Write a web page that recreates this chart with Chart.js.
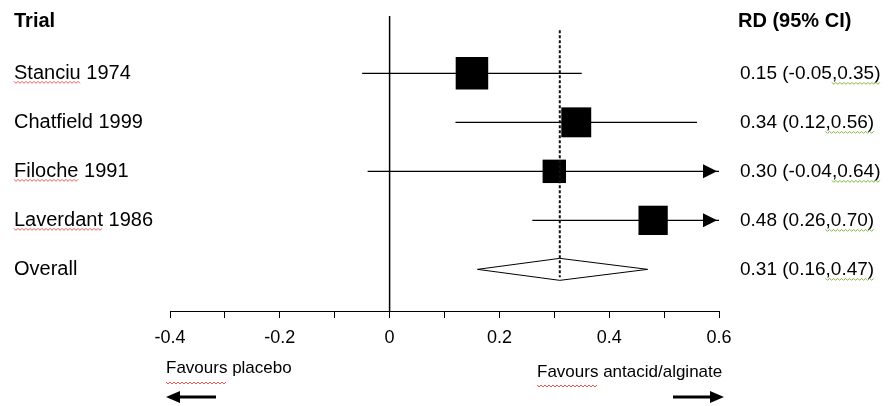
<!DOCTYPE html>
<html lang="en">
<head>
<meta charset="UTF-8">
<title>Forest plot - RD (95% CI)</title>
<style>
  html, body { margin: 0; padding: 0; background: #fff; }
  #wrap { width: 891px; height: 406px; }
</style>
<script src="https://cdn.jsdelivr.net/npm/chart.js"></script>
</head>
<body>
<div id="wrap"><canvas id="forest" width="891" height="406"></canvas></div>
<script>
// data
const trials = ['Stanciu 1974', 'Chatfield 1999', 'Filoche 1991', 'Laverdant 1986'];
const rd = [0.15, 0.34, 0.30, 0.48];
const lower = [-0.05, 0.12, -0.04, 0.26];
const upper = [0.35, 0.56, 0.64, 0.70];
const weights = [1.0, 0.92, 0.72, 0.9]; // relative box size
const overallLabel = 'Overall';
const overallRd = 0.31;
const overallCI = [0.16, 0.47];
const xTicks = [-0.4, -0.2, 0, 0.2, 0.4, 0.6];

const FONT = 'Liberation Sans, Arial, sans-serif';
Chart.defaults.font.family = FONT;

const overallRow = trials.length + 1;
const xMin = xTicks[0];
const xMax = xTicks[xTicks.length - 1];

function squiggle(ctx, x0, x1, yy, color) {
    ctx.save();
    ctx.strokeStyle = color;
    ctx.lineWidth = 1;
    ctx.setLineDash([]);
    ctx.beginPath();
    let up = true;
    for (let px = x0; px <= x1; px += 2) {
        ctx.lineTo(px, yy + (up ? -1 : 1));
        up = !up;
    }
    ctx.stroke();
    ctx.restore();
}

function fmt(v) {
    return v.toFixed(2);
}

const forestExtras = {
    id: 'forestExtras',
    afterDatasetsDraw(chart) {
        const { ctx, chartArea, scales: { x, y } } = chart;
        ctx.save();

        // line of no effect
        const x0 = x.getPixelForValue(0);
        ctx.strokeStyle = '#000';
        ctx.lineWidth = 1.5;
        ctx.beginPath();
        ctx.moveTo(x0, chartArea.top);
        ctx.lineTo(x0, chartArea.bottom);
        ctx.stroke();

        // overall diamond
        const yo = y.getPixelForValue(overallRow);
        const xl = x.getPixelForValue(overallCI[0]);
        const xr = x.getPixelForValue(overallCI[1]);
        const xm = x.getPixelForValue(overallRd);
        ctx.lineWidth = 1;
        ctx.fillStyle = '#fff';
        ctx.beginPath();
        ctx.moveTo(xl, yo);
        ctx.lineTo(xm, yo - 11);
        ctx.lineTo(xr, yo);
        ctx.lineTo(xm, yo + 11);
        ctx.closePath();
        ctx.fill();
        ctx.stroke();

        // dotted line at pooled estimate
        ctx.setLineDash([3, 2]);
        ctx.lineWidth = 2;
        ctx.strokeStyle = '#111';
        ctx.beginPath();
        ctx.moveTo(xm, y.getPixelForValue(0.12));
        ctx.lineTo(xm, yo + 8);
        ctx.stroke();
        ctx.setLineDash([]);

        // arrows where the CI runs past the axis
        ctx.fillStyle = '#000';
        upper.forEach((hi, i) => {
            if (hi > xMax) {
                const tip = x.getPixelForValue(xMax) - 2;
                const yy = y.getPixelForValue(i + 1);
                ctx.beginPath();
                ctx.moveTo(tip, yy);
                ctx.lineTo(tip - 14, yy - 7);
                ctx.lineTo(tip - 14, yy + 7);
                ctx.closePath();
                ctx.fill();
            }
        });
        ctx.restore();
    },
    afterDraw(chart) {
        const { ctx, scales: { y } } = chart;
        ctx.save();
        ctx.fillStyle = '#000';
        ctx.textBaseline = 'middle';
        ctx.textAlign = 'left';

        // headers
        ctx.font = 'bold 20px ' + FONT;
        ctx.fillText('Trial', 14, 21);
        ctx.fillText('RD (95% CI)', 738, 21);

        const labels = trials.concat([overallLabel]);
        const rdAll = rd.concat([overallRd]);
        const loAll = lower.concat([overallCI[0]]);
        const hiAll = upper.concat([overallCI[1]]);
        labels.forEach((lab, i) => {
            const yy = y.getPixelForValue(i + 1);
            ctx.font = '20px ' + FONT;
            ctx.fillText(lab, 14, yy);

            // word-processor spell check marks
            const first = lab.split(' ')[0];
            if (['Stanciu', 'Filoche', 'Laverdant'].includes(first)) {
                squiggle(ctx, 14, 14 + ctx.measureText(first).width, yy + 9, '#e8574f');
            }

            ctx.font = '19px ' + FONT;
            const val = fmt(rdAll[i]) + ' (' + fmt(loAll[i]) + ',' + fmt(hiAll[i]) + ')';
            ctx.fillText(val, 740, yy);
            const cut = val.lastIndexOf(',');
            const gx = 740 + ctx.measureText(val.slice(0, cut)).width;
            squiggle(ctx, gx, 740 + ctx.measureText(val).width, yy + 10, '#7cb342');
        });

        // direction captions
        ctx.font = '17px ' + FONT;
        ctx.fillText('Favours placebo', 166, 368);
        ctx.fillText('Favours antacid/alginate', 537, 372);
        squiggle(ctx, 166, 166 + ctx.measureText('Favours').width, 383, '#e8574f');
        squiggle(ctx, 537, 537 + ctx.measureText('Favours').width, 386, '#e8574f');

        // direction arrows
        ctx.strokeStyle = '#000';
        ctx.lineWidth = 3;
        ctx.beginPath();
        ctx.moveTo(176, 397);
        ctx.lineTo(216, 397);
        ctx.moveTo(673, 397);
        ctx.lineTo(712, 397);
        ctx.stroke();
        ctx.beginPath();
        ctx.moveTo(166, 397);
        ctx.lineTo(180, 391);
        ctx.lineTo(180, 403);
        ctx.closePath();
        ctx.moveTo(724, 397);
        ctx.lineTo(710, 391);
        ctx.lineTo(710, 403);
        ctx.closePath();
        ctx.fill();
        ctx.restore();
    }
};

const whiskerSets = trials.map((t, i) => ({
    label: t,
    type: 'line',
    data: [
        { x: lower[i], y: i + 1 },
        { x: Math.min(upper[i], xMax), y: i + 1 }
    ],
    borderColor: '#000',
    borderWidth: 1.2,
    pointRadius: 0,
    fill: false,
    order: 2
}));

const boxSet = {
    label: 'RD',
    data: trials.map((t, i) => ({ x: rd[i], y: i + 1 })),
    pointStyle: 'rect',
    pointRadius: ctx => weights[ctx.dataIndex] * 23,
    pointHoverRadius: ctx => weights[ctx.dataIndex] * 23,
    backgroundColor: '#000',
    borderWidth: 0,
    order: 1
};

new Chart(document.getElementById('forest'), {
    type: 'scatter',
    data: { datasets: [boxSet].concat(whiskerSets) },
    options: {
        responsive: false,
        animation: false,
        devicePixelRatio: 1,
        layout: { autoPadding: false, padding: { left: 170, right: 172, top: 16, bottom: 0 } },
        plugins: { legend: { display: false }, tooltip: { enabled: false } },
        scales: {
            x: {
                type: 'linear',
                min: xMin,
                max: xMax,
                afterFit(scale) { scale.height = 95; },
                border: { display: true, color: '#000', width: 1 },
                grid: { drawOnChartArea: false, drawTicks: true, tickLength: 7, color: '#000' },
                ticks: {
                    stepSize: 0.1,
                    autoSkip: false,
                    maxRotation: 0,
                    padding: 9,
                    color: '#000',
                    font: { size: 18 },
                    callback: v => Math.round(v * 10) % 2 === 0 ? String(Number(v.toFixed(1))) : ''
                }
            },
            y: {
                type: 'linear',
                display: false,
                reverse: true,
                min: -0.17,
                max: 5.85
            }
        }
    },
    plugins: [forestExtras]
});
</script>
</body>
</html>
